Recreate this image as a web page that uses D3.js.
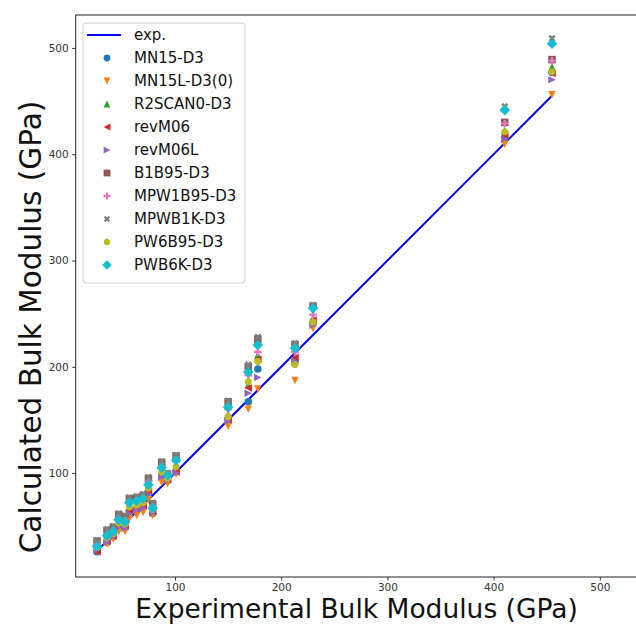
<!DOCTYPE html>
<html>
<head>
<meta charset="utf-8">
<script src="https://cdn.jsdelivr.net/npm/d3@7"></script>
<style>
  html, body { margin: 0; padding: 0; background: #fff; }
  svg { display: block; font-family: "DejaVu Sans", sans-serif; }
</style>
</head>
<body>
<svg id="chart" width="636" height="624"></svg>
<script>
// ---------------- data ----------------
const expValues = [26.6, 36, 42, 47, 53, 57, 64, 70, 75, 79, 87.5, 93, 101, 150, 169, 178, 213, 230, 410.5, 455];

const seriesNames = ["MN15-D3", "MN15L-D3(0)", "R2SCAN0-D3", "revM06", "revM06L",
                     "B1B95-D3", "MPW1B95-D3", "MPWB1K-D3", "PW6B95-D3", "PWB6K-D3"];
const seriesColors = ["#1f77b4", "#ff7f0e", "#2ca02c", "#d62728", "#9467bd",
                      "#8c564b", "#e377c2", "#7f7f7f", "#bcbd22", "#17becf"];
const seriesMarkers = ["circle", "tridown", "triup", "trileft", "triright",
                       "square", "plus", "x", "octagon", "diamond"];

const MN15     = [26, 35, 40, 50, 49, 64, 66, 68, 82, 62, 97, 93, 102, 151, 167, 198, 205, 241, 415, 477];
const MN15L    = [27, 33, 38, 45, 45, 57, 60, 63, 75, 60, 91, 90, 99, 144, 160, 179, 187, 236, 409.5, 456];
const R2SCAN0  = [30, 38, 43, 52, 51, 67, 69, 71, 85, 65, 100, 95, 104, 155, 183, 211, 210, 246, 422, 482];
const revM06   = [26, 36, 41, 51, 50, 65, 67, 69, 83, 64, 98, 94, 101, 150, 180, 207, 209, 244, 418, 476];
const revM06L  = [28, 35, 40, 49, 48, 62, 65, 67, 80, 63, 96, 93, 100, 149, 175, 190, 205, 239, 414, 470];
const B1B95    = [36, 46, 49, 61, 59, 76, 77, 79, 95, 71, 110, 99, 116, 167, 200, 226, 221, 257, 430, 489];
const MPW1B95  = [33, 42, 46, 57, 56, 73, 75, 77, 92, 69, 106, 97, 111, 160, 192, 214, 214, 249, 429, 488];
const MPWB1K   = [37, 47, 50, 62, 60, 77, 78, 80, 96, 72, 111, 100, 117, 168, 202, 228, 222, 258, 445, 509];
const PW6B95   = [30, 39, 43, 53, 52, 68, 70, 72, 86, 66, 101, 95, 106, 153, 186, 205, 202, 242, 421, 477.5];
const PWB6K    = [31, 41, 45, 56, 54, 72, 74, 76, 89, 67, 105, 98, 112, 162, 195, 220.5, 217.5, 255, 441.5, 504];
const seriesValues = [MN15, MN15L, R2SCAN0, revM06, revM06L, B1B95, MPW1B95, MPWB1K, PW6B95, PWB6K];

const xTicks = [100, 200, 300, 400, 500];
const yTicks = [100, 200, 300, 400, 500];

const xLabel = "Experimental Bulk Modulus (GPa)";
const yLabel = "Calculated Bulk Modulus (GPa)";
const expLabel = "exp.";

(function () {
// ---------------- layout ----------------
const svg = d3.select("#chart");
const pLeft = 75.7, pRight = 637.5, pTop = 15, pBottom = 577;

const x = d3.scaleLinear().domain([6.5, 535.5]).range([pLeft, pRight]);
const y = d3.scaleLinear().domain([2.2, 531]).range([pBottom, pTop]);

// ---------------- marker shapes ----------------
const MS_PLOT = 7.5;
const MS_LEGEND = 6.8;
function markerPath(type, s) {
  const h = s / 2;
  switch (type) {
    case "circle": return d3.symbol().type(d3.symbolCircle).size(Math.PI * h * h)();
    case "tridown": return `M0,${h}L${-h},${-h}L${h},${-h}Z`;
    case "triup": return `M0,${-h}L${-h},${h}L${h},${h}Z`;
    case "trileft": return `M${-h},0L${h},${-h}L${h},${h}Z`;
    case "triright": return `M${h},0L${-h},${-h}L${-h},${h}Z`;
    case "square": return `M${-h},${-h}H${h}V${h}H${-h}Z`;
    case "plus": {
      const u = s / 6;
      const pts = [[-1,-3],[1,-3],[1,-1],[3,-1],[3,1],[1,1],[1,3],[-1,3],[-1,1],[-3,1],[-3,-1],[-1,-1]];
      return "M" + pts.map(p => `${p[0]*u},${p[1]*u}`).join("L") + "Z";
    }
    case "x": {
      const u = s / 6;
      const c = Math.SQRT1_2;
      const pts = [[-1,-3],[1,-3],[1,-1],[3,-1],[3,1],[1,1],[1,3],[-1,3],[-1,1],[-3,1],[-3,-1],[-1,-1]]
        .map(p => [(p[0]*c - p[1]*c) * u, (p[0]*c + p[1]*c) * u]);
      return "M" + pts.map(p => `${p[0]},${p[1]}`).join("L") + "Z";
    }
    case "octagon": {
      const pts = d3.range(8).map(i => {
        const a = (i * 45 + 22.5) * Math.PI / 180;
        return [h * Math.cos(a), h * Math.sin(a)];
      });
      return "M" + pts.map(p => `${p[0]},${p[1]}`).join("L") + "Z";
    }
    case "diamond": {
      const d = h * Math.SQRT2;
      return `M0,${-d}L${d},0L0,${d}L${-d},0Z`;
    }
  }
}

// ---------------- exp line ----------------
const line = d3.line().x(d => x(d)).y(d => y(d));
svg.append("path")
  .datum([d3.min(expValues), d3.max(expValues)])
  .attr("d", line)
  .attr("fill", "none")
  .attr("stroke", "#0000ff")
  .attr("stroke-width", 2);

// ---------------- points ----------------
seriesValues.forEach((vals, si) => {
  const g = svg.append("g");
  g.selectAll("path")
    .data(vals.map((v, i) => ({ xv: expValues[i], yv: v })))
    .join("path")
    .attr("d", markerPath(seriesMarkers[si], MS_PLOT))
    .attr("transform", d => `translate(${x(d.xv)},${y(d.yv)})`)
    .attr("fill", seriesColors[si]);
});

// ---------------- axes ----------------
const xAxis = d3.axisBottom(x).tickValues(xTicks).tickSize(3.5).tickPadding(3.5).tickFormat(d3.format("d"));
const yAxis = d3.axisLeft(y).tickValues(yTicks).tickSize(3.5).tickPadding(3.5).tickFormat(d3.format("d"));

const gx = svg.append("g").attr("transform", `translate(0,${pBottom})`).call(xAxis);
const gy = svg.append("g").attr("transform", `translate(${pLeft},0)`).call(yAxis);
[gx, gy].forEach(g => {
  g.select(".domain").remove();
  g.selectAll(".tick line").attr("stroke", "#222").attr("stroke-width", 0.9);
  g.selectAll(".tick text").attr("fill", "#333").style("font-size", "10.5px")
    .style("font-family", "DejaVu Sans, sans-serif");
});

// frame (spines)
svg.append("rect")
  .attr("x", pLeft).attr("y", pTop)
  .attr("width", pRight - pLeft).attr("height", pBottom - pTop)
  .attr("fill", "none").attr("stroke", "#222").attr("stroke-width", 1);

// axis labels
svg.append("text")
  .attr("x", (pLeft + pRight) / 2).attr("y", 618)
  .attr("text-anchor", "middle")
  .style("font-size", "26.5px").attr("fill", "#111")
  .text(xLabel);

svg.append("text")
  .attr("transform", `translate(41,327) rotate(-90)`)
  .attr("text-anchor", "middle")
  .style("font-size", "29.5px").attr("fill", "#111")
  .text(yLabel);

// ---------------- legend ----------------
const lg = svg.append("g");
lg.append("rect")
  .attr("x", 83).attr("y", 23).attr("width", 162).attr("height", 260)
  .attr("rx", 3).attr("ry", 3)
  .attr("fill", "#fff").attr("fill-opacity", 0.8)
  .attr("stroke", "#d0d0d0").attr("stroke-width", 1);

const rowY = i => 35 + 23 * i;
lg.append("line")
  .attr("x1", 87).attr("x2", 121).attr("y1", rowY(0)).attr("y2", rowY(0))
  .attr("stroke", "#0000ff").attr("stroke-width", 2);
lg.append("text").attr("x", 134).attr("y", rowY(0)).attr("dy", "0.35em")
  .style("font-size", "15px").attr("fill", "#111").text(expLabel);

seriesNames.forEach((name, i) => {
  const yy = rowY(i + 1);
  lg.append("path")
    .attr("d", markerPath(seriesMarkers[i], MS_LEGEND))
    .attr("transform", `translate(107,${yy})`)
    .attr("fill", seriesColors[i]);
  lg.append("text").attr("x", 134).attr("y", yy).attr("dy", "0.35em")
    .style("font-size", "15px").attr("fill", "#111").text(name);
});
})();
</script>
</body>
</html>
